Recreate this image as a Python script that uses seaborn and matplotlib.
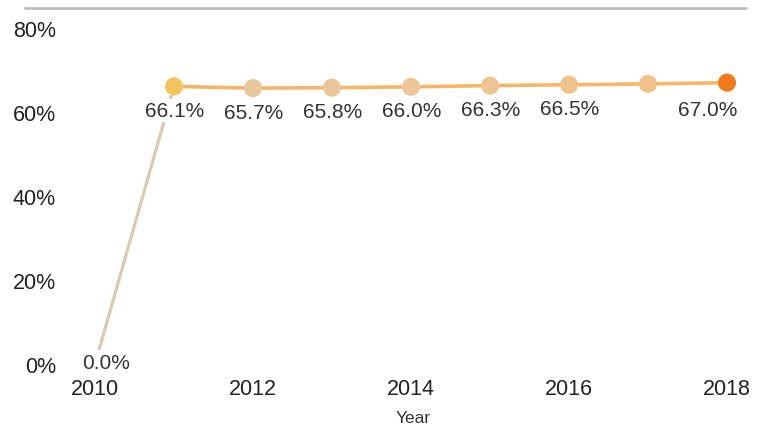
import matplotlib
matplotlib.use("Agg")
import matplotlib.pyplot as plt
from matplotlib.lines import Line2D
from matplotlib.ticker import FuncFormatter
import seaborn as sns
import pandas as pd

# Share of the total by year (percent)
years = [2010, 2011, 2012, 2013, 2014, 2015, 2016, 2017, 2018]
share = [0.0, 66.1, 65.7, 65.8, 66.0, 66.3, 66.5, 66.7, 67.0]
labels = ["0.0%", "66.1%", "65.7%", "65.8%", "66.0%", "66.3%", "66.5%", "", "67.0%"]
point_colors = ["#f4e4c6", "#f2c560", "#e8c898", "#e9c59c", "#ecc598",
                "#eec492", "#eec38c", "#efc28c", "#ee7a1c"]

df = pd.DataFrame({"Year": years, "Share": share, "Label": labels})

sns.set_theme(style="white")
plt.rcParams["font.family"] = ["Liberation Sans", "DejaVu Sans"]

fig = plt.figure(figsize=(7.57, 4.31), dpi=100)
ax = fig.add_axes([0.0942, 0.153, 0.9027, 0.7796])

# ramp from the first year, then the flat run
sns.lineplot(data=df.iloc[:2], x="Year", y="Share", ax=ax, color="#dacbb4",
             linewidth=2.4, zorder=2)
sns.lineplot(data=df.iloc[1:], x="Year", y="Share", ax=ax, color="#f7b569",
             linewidth=2.6, zorder=2)
sns.scatterplot(data=df, x="Year", y="Share", hue="Year",
                palette=dict(zip(years, point_colors)), s=170,
                edgecolor="none", legend=False, ax=ax, zorder=3, clip_on=False)

for x, y, t in zip(df["Year"], df["Share"], df["Label"]):
    if not t:
        continue
    if y == 0:
        dx, dy = 11, 2
    elif x == years[-1]:
        dx, dy = -19, -27
    else:
        dx, dy = 1, -24
    ax.annotate(t, (x, y), xytext=(dx, dy), textcoords="offset pixels",
                ha="center", va="center", fontsize=15, color="#333333",
                zorder=4,
                bbox=dict(boxstyle="square,pad=0.1", fc="white", ec="none"))

ax.set_xlim(2009.7, 2018.35)
ax.set_ylim(0, 80)
ax.set_xticks([2010, 2012, 2014, 2016, 2018])
ax.set_yticks([0, 20, 40, 60, 80])
ax.yaxis.set_major_formatter(FuncFormatter(lambda v, p: f"{v:.0f}%"))
ax.tick_params(axis="x", labelsize=15.5, colors="#222222", pad=10, length=0)
ax.tick_params(axis="y", labelsize=15.5, colors="#222222", pad=11, length=0)
ax.set_xlabel("Year", fontsize=12.5, color="#333333", labelpad=8)
ax.set_ylabel("")
for s in ax.spines.values():
    s.set_visible(False)
ax.grid(False)

# thin rule along the top edge
fig.add_artist(Line2D([0.033, 0.985], [0.98, 0.98], color="#bdbdbd",
                      linewidth=2.0, transform=fig.transFigure))

fig.savefig("out.png", dpi=100)
